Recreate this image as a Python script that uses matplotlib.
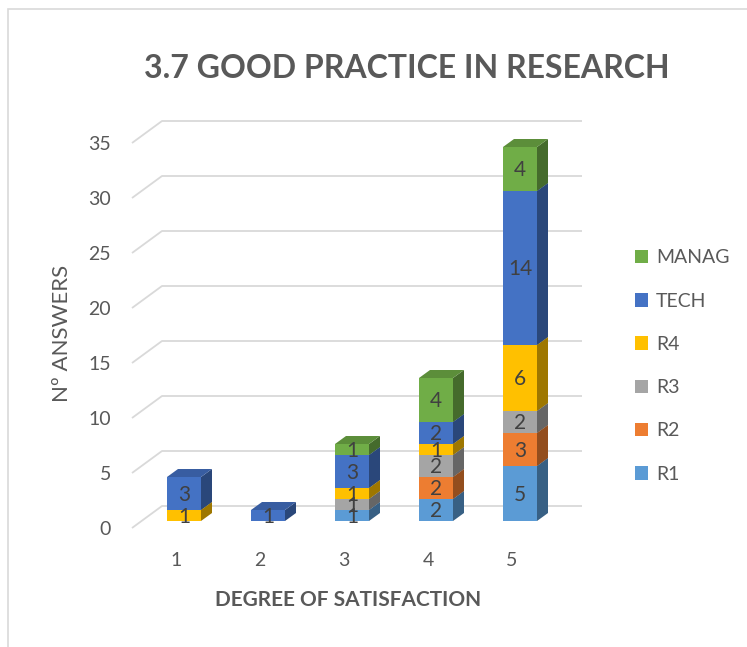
import numpy as np
import matplotlib
matplotlib.use("Agg")
import matplotlib.pyplot as plt
from matplotlib.patches import Polygon, Rectangle, Patch
from matplotlib import colors as mcolors

plt.rcParams['font.family'] = ['Lato', 'DejaVu Sans']

# data
categories = ['1', '2', '3', '4', '5']
series = ['R1', 'R2', 'R3', 'R4', 'TECH', 'MANAG']
r1 = [0, 0, 1, 2, 5]
r2 = [0, 0, 0, 2, 3]
r3 = [0, 0, 1, 2, 2]
r4 = [1, 0, 1, 1, 6]
tech = [3, 1, 3, 2, 14]
manag = [0, 0, 1, 4, 4]
yticks = [0, 5, 10, 15, 20, 25, 30, 35]

values = [r1, r2, r3, r4, tech, manag]
colors = ['#5B9BD5', '#ED7D31', '#A5A5A5', '#FFC000', '#4472C4', '#70AD47']

def shade(c, f):
    r, g, b = mcolors.to_rgb(c)
    return (r * f, g * f, b * f)

# geometry of the fake 3d projection (pixels -> data units)
px_x = 84.0   # pixels per category
px_y = 11.0   # pixels per answer
W, H = 747, 647
fig = plt.figure(figsize=(W / 100, H / 100), dpi=100)
ax = fig.add_axes([0, 0, 1, 1])
ax.set_xlim(1 - 184 / px_x, 1 + (W - 184) / px_x)
ax.set_ylim((521 - H) / px_y, 521 / px_y)
ax.axis('off')

bw = 34 / px_x
ddx = 11 / px_x   # bar depth offset
ddy = 8 / px_y
wall_dy = 15 / px_y
gx0, gx1, gxf = 1 + (162 - 184) / px_x, 1 + (582 - 184) / px_x, 1 + (132 - 184) / px_x
gfd = -7 / px_y

tc = '#595959'
# gridlines with left diagonal
for v in yticks:
    ax.plot([gxf, gx0, gx1], [v + gfd, v + wall_dy, v + wall_dy],
            color='#D9D9D9', lw=1.3, zorder=1, solid_capstyle='butt')
    ax.text(1 + (111 - 184) / px_x, v - 0.8, str(v), ha='right', va='center',
            fontsize=14, color=tc)

# stacked 3d-looking bars
x = np.arange(1, len(categories) + 1)
for i, xc in enumerate(x):
    bottom = 0
    for s, vals in enumerate(values):
        v = vals[i]
        if v == 0:
            continue
        c = colors[s]
        l, r = xc - bw / 2, xc + bw / 2
        top = bottom + v
        ax.add_patch(Rectangle((l, bottom), bw, v, facecolor=c, edgecolor='none', zorder=3))
        ax.add_patch(Polygon([[r, bottom], [r + ddx, bottom + ddy], [r + ddx, top + ddy], [r, top]],
                             closed=True, facecolor=shade(c, 0.62), edgecolor='none', zorder=3))
        ax.add_patch(Polygon([[l, top], [r, top], [r + ddx, top + ddy], [l + ddx, top + ddy]],
                             closed=True, facecolor=shade(c, 0.82), edgecolor='none', zorder=3))
        ax.text(xc, bottom + v / 2 - 0.1, str(v), ha='center', va='center',
                fontsize=15, color='#404040', zorder=4)
        bottom = top
    ax.text(xc - 8 / px_x, (521 - 560) / px_y, categories[i], ha='center', va='center',
            fontsize=14, color=tc)

ax.text(1 + (348 - 184) / px_x, (521 - 600) / px_y, 'DEGREE OF SATISFACTION',
        ha='center', va='center', fontsize=15, fontweight='bold', color=tc)
ax.text(1 + (62 - 184) / px_x, (521 - 333) / px_y, 'Nº ANSWERS', rotation=90,
        ha='center', va='center', fontsize=16, color=tc)
fig.text(407 / W, 1 - 69 / H, '3.7 GOOD PRACTICE IN RESEARCH', ha='center', va='center',
         fontsize=23, fontweight='bold', color=tc)

handles = [Patch(facecolor=colors[k], label=series[k]) for k in range(len(series))][::-1]
fig.legend(handles=handles, loc='center left', bbox_to_anchor=(617 / W, 1 - 366 / H),
           frameon=False, fontsize=14, labelcolor=tc, handlelength=0.7, handleheight=0.7,
           handletextpad=0.4, labelspacing=1.35)

# chart border
fig.patches.append(Rectangle((8 / W, -0.1), 1.2, 1 - 9 / H + 0.1, transform=fig.transFigure,
                             fill=False, edgecolor='#D9D9D9', lw=1.2))

fig.savefig('out.png', dpi=100)
